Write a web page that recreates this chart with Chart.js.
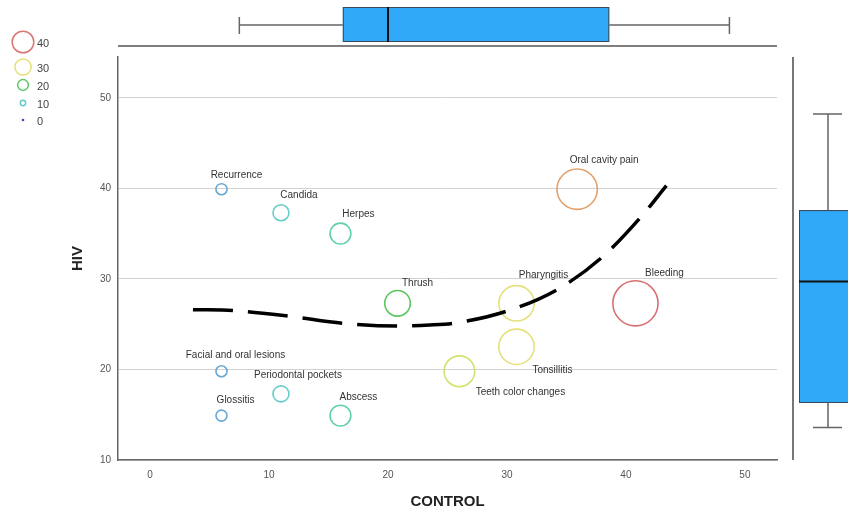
<!DOCTYPE html>
<html>
<head>
<meta charset="utf-8">
<script src="https://cdn.jsdelivr.net/npm/chart.js@4/dist/chart.umd.min.js"></script>
<style>
  html, body { margin: 0; padding: 0; background: #fff; }
  #wrap { width: 848px; height: 515px; position: relative; overflow: hidden; }
</style>
</head>
<body>
<div id="wrap"><canvas id="chart" width="848" height="515"></canvas></div>
<script>
// Oral symptoms: % in CONTROL group (x) versus % in HIV group (y)
const symptoms = [
  'Recurrence', 'Candida', 'Herpes', 'Thrush', 'Oral cavity pain',
  'Pharyngitis', 'Bleeding', 'Tonsillitis', 'Teeth color changes',
  'Facial and oral lesions', 'Periodontal pockets', 'Glossitis', 'Abscess'
];
const controlPct = [6.0, 11.0, 16.0, 20.8, 35.9, 30.8, 40.8, 30.8, 26.0, 6.0, 11.0, 6.0, 16.0];
const hivPct     = [39.9, 37.3, 35.0, 27.3, 39.9, 27.3, 27.3, 22.5, 19.8, 19.8, 17.3, 14.9, 14.9];
// bubble size variable (CONTROL %)
const sizeValue  = [6.0, 11.0, 16.0, 20.8, 35.9, 30.8, 40.8, 30.8, 26.0, 6.0, 11.0, 6.0, 16.0];

const xTicks = [0, 10, 20, 30, 40, 50];
const yTicks = [10, 20, 30, 40, 50];
const sizeLegend = [40, 30, 20, 10, 0];

// fitted trend curve
const fitX = [3.6, 7.0, 11.6, 16.2, 20.8, 23.5, 25.5, 29.9, 34.2, 38.0, 41.3, 43.4];
const fitY = [26.6, 26.5, 25.9, 25.1, 24.8, 24.9, 25.1, 26.4, 28.8, 32.4, 36.9, 40.3];

// marginal box plots: [lower whisker, Q1, median, Q3, upper whisker]
const controlBox = [7.5, 16.2, 20.0, 38.6, 48.7];
const hivBox     = [13.6, 16.3, 29.7, 37.6, 48.2];

// ---------- styling ----------
const FONT = "'Liberation Sans', Arial, sans-serif";
const colourStops = [
  [0,  [70, 70, 200]],
  [5,  [105, 160, 210]],
  [9,  [100, 195, 210]],
  [12, [105, 210, 195]],
  [16, [100, 208, 170]],
  [21, [90, 198, 90]],
  [26, [210, 226, 110]],
  [31, [230, 224, 125]],
  [36, [225, 160, 110]],
  [41, [215, 110, 115]]
];
function colourFor(v) {
  if (v <= colourStops[0][0]) return 'rgb(' + colourStops[0][1].join(',') + ')';
  for (let i = 1; i < colourStops.length; i++) {
    const [v1, c1] = colourStops[i];
    const [v0, c0] = colourStops[i - 1];
    if (v <= v1) {
      const t = (v - v0) / (v1 - v0);
      const c = c0.map((a, k) => Math.round(a + (c1[k] - a) * t));
      return 'rgb(' + c.join(',') + ')';
    }
  }
  return 'rgb(' + colourStops[colourStops.length - 1][1].join(',') + ')';
}
const radiusFor = v => 2.6 + 0.49 * v;
const legendRadiusFor = v => Math.max(1.3, 0.27 * v);

const labelOffsets = {
  'Recurrence': [15, -14],
  'Candida': [18, -18],
  'Herpes': [18, -19],
  'Thrush': [20, -20],
  'Oral cavity pain': [27, -29],
  'Pharyngitis': [27, -28],
  'Bleeding': [29, -30],
  'Tonsillitis': [36, 23],
  'Teeth color changes': [61, 21],
  'Facial and oral lesions': [14, -16],
  'Periodontal pockets': [17, -19],
  'Glossitis': [14, -15],
  'Abscess': [18, -18]
};

const BOX_FILL = '#30a8f8';
const WHISKER = '#666';

const bubbles = symptoms.map((name, i) => ({
  x: controlPct[i], y: hivPct[i], r: radiusFor(sizeValue[i]), label: name
}));
const fitLine = fitX.map((x, i) => ({ x, y: fitY[i] }));

// point labels, marginal box plots and size legend
const decorations = {
  id: 'decorations',
  afterDatasetsDraw(chart) {
    const ctx = chart.ctx;
    const meta = chart.getDatasetMeta(0);
    ctx.save();
    ctx.font = '10px ' + FONT;
    ctx.fillStyle = '#333';
    ctx.textAlign = 'center';
    ctx.textBaseline = 'middle';
    meta.data.forEach((el, i) => {
      const off = labelOffsets[symptoms[i]] || [0, -14];
      ctx.fillText(symptoms[i], el.x + off[0], el.y + off[1]);
    });
    ctx.restore();
  },
  afterDraw(chart) {
    const ctx = chart.ctx;
    const xs = chart.scales.x, ys = chart.scales.y;
    const area = chart.chartArea;

    ctx.save();
    // ----- top box plot (CONTROL) -----
    const [lo, q1, med, q3, hi] = controlBox.map(v => xs.getPixelForValue(v));
    const boxTop = 7, boxBot = 42, midY = 25;
    ctx.strokeStyle = WHISKER; ctx.lineWidth = 1.5;
    ctx.beginPath();
    ctx.moveTo(lo, midY); ctx.lineTo(q1, midY);
    ctx.moveTo(q3, midY); ctx.lineTo(hi, midY);
    ctx.moveTo(lo, 17); ctx.lineTo(lo, 34);
    ctx.moveTo(hi, 17); ctx.lineTo(hi, 34);
    ctx.stroke();
    ctx.fillStyle = BOX_FILL;
    ctx.fillRect(q1, boxTop, q3 - q1, boxBot - boxTop);
    ctx.strokeStyle = '#3a4a5a'; ctx.lineWidth = 1;
    ctx.strokeRect(q1 + 0.5, boxTop + 0.5, q3 - q1 - 1, boxBot - boxTop - 1);
    ctx.strokeStyle = '#111'; ctx.lineWidth = 2;
    ctx.beginPath(); ctx.moveTo(med, boxTop); ctx.lineTo(med, boxBot); ctx.stroke();
    // baseline under it
    ctx.strokeStyle = '#555'; ctx.lineWidth = 1.5;
    ctx.beginPath(); ctx.moveTo(area.left, 46); ctx.lineTo(area.right, 46); ctx.stroke();

    // ----- right box plot (HIV) -----
    const [ylo, yq1, ymed, yq3, yhi] = hivBox.map(v => ys.getPixelForValue(v));
    const bx0 = 799, bx1 = 870, wx = 828;
    ctx.strokeStyle = WHISKER; ctx.lineWidth = 1.5;
    ctx.beginPath();
    ctx.moveTo(wx, yhi); ctx.lineTo(wx, yq3);
    ctx.moveTo(wx, yq1); ctx.lineTo(wx, ylo);
    ctx.moveTo(813, yhi); ctx.lineTo(842, yhi);
    ctx.moveTo(813, ylo); ctx.lineTo(842, ylo);
    ctx.stroke();
    ctx.fillStyle = BOX_FILL;
    ctx.fillRect(bx0, yq3, bx1 - bx0, yq1 - yq3);
    ctx.strokeStyle = '#3a4a5a'; ctx.lineWidth = 1;
    ctx.strokeRect(bx0 + 0.5, yq3 + 0.5, bx1 - bx0, yq1 - yq3 - 1);
    ctx.strokeStyle = '#111'; ctx.lineWidth = 2;
    ctx.beginPath(); ctx.moveTo(bx0, ymed); ctx.lineTo(bx1, ymed); ctx.stroke();
    ctx.strokeStyle = '#777'; ctx.lineWidth = 2;
    ctx.beginPath(); ctx.moveTo(793, area.top); ctx.lineTo(793, area.bottom); ctx.stroke();

    // ----- size legend -----
    const legendY = [42, 67, 85, 103, 120];
    ctx.font = '11px ' + FONT;
    ctx.textAlign = 'left';
    ctx.textBaseline = 'middle';
    sizeLegend.forEach((v, i) => {
      const r = legendRadiusFor(v);
      const col = colourFor(v);
      ctx.beginPath();
      ctx.arc(23, legendY[i], r, 0, Math.PI * 2);
      if (v === 0) { ctx.fillStyle = col; ctx.fill(); }
      else { ctx.strokeStyle = col; ctx.lineWidth = 1.5; ctx.stroke(); }
      ctx.fillStyle = '#444';
      ctx.fillText(String(v), 37, legendY[i] + 2);
    });
    ctx.restore();
  }
};

new Chart(document.getElementById('chart'), {
  data: {
    datasets: [
      {
        type: 'bubble',
        data: bubbles,
        backgroundColor: 'rgba(0,0,0,0)',
        borderColor: sizeValue.map(colourFor),
        borderWidth: 1.6,
        hoverRadius: 0,
        order: 1
      },
      {
        type: 'line',
        data: fitLine,
        borderColor: '#000',
        borderWidth: 3.5,
        borderDash: [40, 15],
        borderCapStyle: 'butt',
        cubicInterpolationMode: 'monotone',
        pointRadius: 0,
        fill: false,
        order: 0
      }
    ]
  },
  options: {
    responsive: false,
    animation: false,
    devicePixelRatio: 1,
    layout: { padding: { top: 57, right: 71, left: 0, bottom: 0 } },
    plugins: { legend: { display: false }, tooltip: { enabled: false } },
    scales: {
      x: {
        type: 'linear',
        min: -2.7,
        max: 52.7,
        afterBuildTicks: s => { s.ticks = xTicks.map(v => ({ value: v })); },
        afterFit: s => { s.height = 55; },
        grid: { display: false, drawTicks: false },
        border: { display: true, color: '#666', width: 1.5 },
        ticks: { color: '#555', font: { family: FONT, size: 10 }, padding: 9 },
        title: {
          display: true, text: 'CONTROL', color: '#222',
          font: { family: FONT, size: 15, weight: 'bold' },
          padding: { top: 0, bottom: 4 }
        }
      },
      y: {
        type: 'linear',
        min: 10,
        max: 54.5,
        afterBuildTicks: s => { s.ticks = yTicks.map(v => ({ value: v })); },
        afterFit: s => { s.width = 118; },
        grid: { color: '#d2d2d2', lineWidth: 1, drawTicks: false },
        border: { display: true, color: '#666', width: 1.5 },
        ticks: { color: '#555', font: { family: FONT, size: 10 }, padding: 7 },
        title: {
          display: true, text: 'HIV', color: '#222',
          font: { family: FONT, size: 15, weight: 'bold' },
          padding: { top: 69, bottom: 0 }
        }
      }
    }
  },
  plugins: [decorations]
});
</script>
</body>
</html>
